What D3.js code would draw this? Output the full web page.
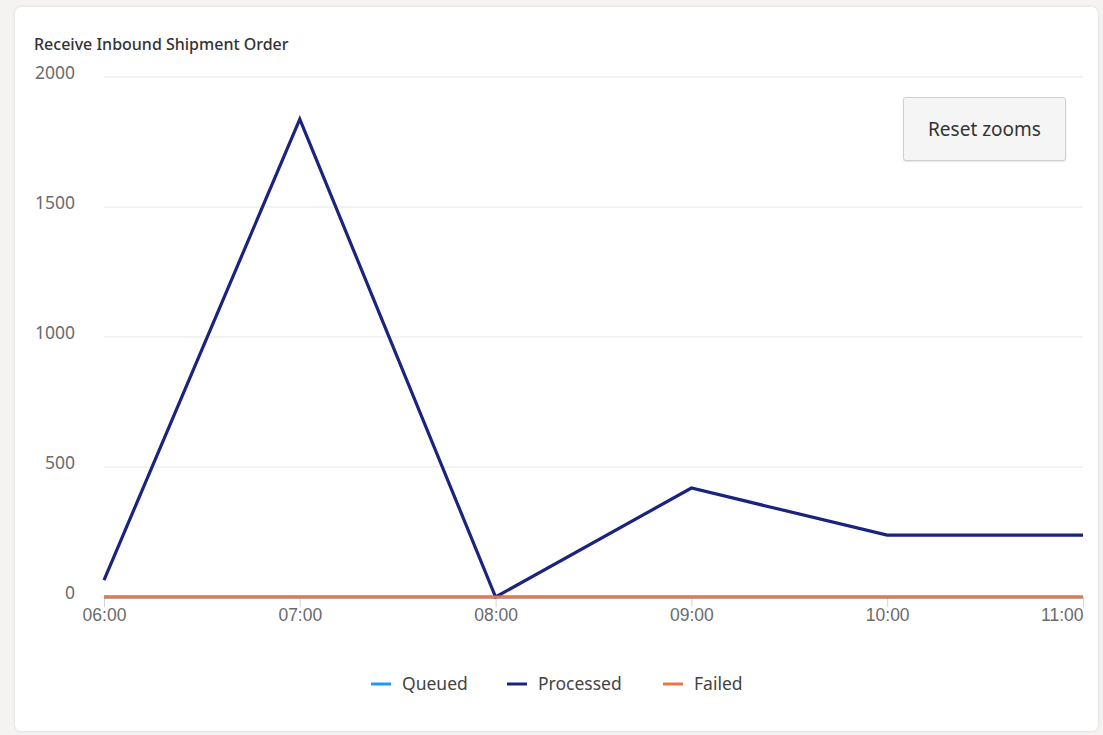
<!DOCTYPE html>
<html lang="en">
<head>
    <meta charset="UTF-8">
    <title>Receive Inbound Shipment Order</title>
    <script src="https://d3js.org/d3.v7.min.js"></script>
    <style>
        body {
            margin: 0;
            background: #f4f3f1;
            font-family: "Noto Sans", "Open Sans", sans-serif;
        }
        #card {
            position: absolute;
            left: 15px;
            top: 7px;
            width: 1083px;
            height: 724px;
            background: #fff;
            border-radius: 6px;
            box-shadow: 0 0 3px rgba(0,0,0,0.12);
        }
        #reset {
            position: absolute;
            left: 888px;
            top: 90px;
            width: 163px;
            height: 64px;
            background: #f5f5f5;
            border: 1px solid #cfcfcf;
            border-radius: 3px;
            font: 19px "Noto Sans", sans-serif;
            color: #333;
            box-shadow: 0 1px 2px rgba(0,0,0,0.1);
        }
        .axis text { font-size: 17.5px; fill: #6b6b6b; }
        .legend text { font-size: 17.5px; fill: #444; }
    </style>
</head>
<body>
    <div id="card">
        <svg id="chart" width="1083" height="724"></svg>
        <button id="reset">Reset zooms</button>
    </div>

    <script>
        const hours = ["06:00", "07:00", "08:00", "09:00", "10:00", "11:00"];
        const queued = [0, 0, 0, 0, 0, 0];
        const processed = [65, 1838, 0, 419, 238, 238];
        const failed = [0, 0, 0, 0, 0, 0];
        const yTicks = [0, 500, 1000, 1500, 2000];

        const series = [
            {name: "Queued", values: queued, color: "#2196f3"},
            {name: "Processed", values: processed, color: "#1a237e"},
            {name: "Failed", values: failed, color: "#e8774a"}
        ];

        // card sits at (15,7) in the page
        const margin = {top: 70, right: 15, bottom: 134, left: 89},
              width = 1083 - margin.left - margin.right,
              height = 724 - margin.top - margin.bottom;

        const svg = d3.select("#chart");
        const g = svg.append("g").attr("transform", `translate(${margin.left},${margin.top})`);

        const x = d3.scalePoint().domain(hours).range([0, width]);
        const y = d3.scaleLinear().domain([0, 2000]).range([height, 0]);

        svg.append("text")
            .attr("x", 19)
            .attr("y", 43)
            .attr("font-size", 16)
            .attr("font-weight", 500)
            .attr("fill", "#333")
            .text("Receive Inbound Shipment Order");

        // grid
        g.selectAll(".grid")
            .data(yTicks)
            .enter().append("line")
            .attr("x1", 0)
            .attr("x2", width)
            .attr("y1", d => y(d))
            .attr("y2", d => y(d))
            .attr("stroke", "#e6e6e6")
            .attr("stroke-width", 1);

        // y labels
        g.append("g").attr("class", "axis")
            .selectAll("text")
            .data(yTicks)
            .enter().append("text")
            .attr("x", -29)
            .attr("y", d => y(d))
            .attr("dy", "0.1em")
            .attr("text-anchor", "end")
            .text(d => d);

        // x axis
        const xAxis = g.append("g").attr("class", "axis")
            .attr("transform", `translate(0,${height})`)
            .call(d3.axisBottom(x).tickSize(10).tickPadding(2));
        xAxis.select(".domain").remove();
        xAxis.selectAll(".tick line").attr("stroke", "#ccd3e0");
        xAxis.selectAll(".tick text").attr("font-family", "inherit")
            .attr("text-anchor", (d, i) => i === hours.length - 1 ? "end" : "middle");

        const line = d3.line()
            .x((d, i) => x(hours[i]))
            .y(d => y(d));

        g.selectAll(".series")
            .data(series)
            .enter().append("path")
            .attr("fill", "none")
            .attr("stroke", d => d.color)
            .attr("stroke-width", 3.2)
            .attr("d", d => line(d.values));

        // legend
        const legendWidths = [136, 156, 90];
        const legend = svg.append("g").attr("class", "legend")
            .attr("transform", `translate(${371 - 15},${684 - 7})`);
        let offset = 0;
        series.forEach((s, i) => {
            const item = legend.append("g").attr("transform", `translate(${offset},0)`);
            item.append("line")
                .attr("x1", 0).attr("x2", 20)
                .attr("y1", 0).attr("y2", 0)
                .attr("stroke", s.color)
                .attr("stroke-width", 3);
            item.append("text")
                .attr("x", 31)
                .attr("y", 0)
                .attr("dy", "0.35em")
                .text(s.name);
            offset += legendWidths[i];
        });
    </script>
</body>
</html>
